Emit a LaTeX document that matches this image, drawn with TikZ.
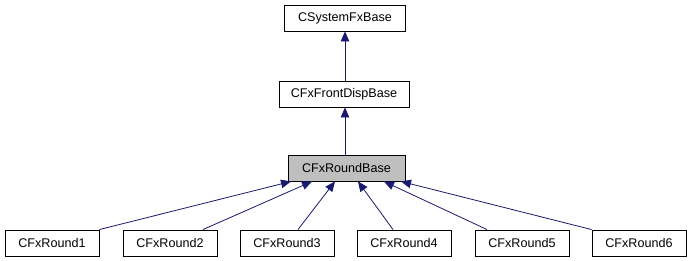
\documentclass[tikz,border=0pt]{standalone}
\usepackage{fontspec}
\setmainfont{Liberation Sans}
\usetikzlibrary{arrows.meta}
\definecolor{edgeblue}{HTML}{191970}
\definecolor{focusgray}{HTML}{BFBFBF}
\begin{document}
\begin{tikzpicture}[x=1pt,y=-1pt,
  classbox/.style={draw=black,line width=0.9pt,fill=white,minimum height=26pt,
    inner sep=0pt,font=\fontsize{12.6}{14}\selectfont},
  leafbox/.style={classbox,minimum width=94pt},
  focusbox/.style={classbox,fill=focusgray},
  inherit/.style={draw=edgeblue,line width=0.8pt,
    -{Triangle[length=10pt,width=8.5pt,fill=edgeblue]}}]
\useasboundingbox[fill=white] (0,0) rectangle (691,261);

% class hierarchy
\node[classbox,minimum width=121pt] (sys)   at (345,18)    {CSystemFxBase};
\node[classbox,minimum width=130pt] (front) at (344,94)    {CFxFrontDispBase};
\node[focusbox,minimum width=117pt] (base)  at (346.5,168) {CFxRoundBase};

\node[leafbox] (r1) at (52,243)  {CFxRound1};
\node[leafbox] (r2) at (170,243) {CFxRound2};
\node[leafbox] (r3) at (287,243) {CFxRound3};
\node[leafbox] (r4) at (404,243) {CFxRound4};
\node[leafbox] (r5) at (522,243) {CFxRound5};
\node[leafbox] (r6) at (639,243) {CFxRound6};

% inheritance edges
\draw[inherit] (front.north -| sys.south) -- (sys.south);
\draw[inherit] ([xshift=-1.5pt]base.north) -- ([xshift=-1.5pt]base.north |- front.south);
\draw[inherit] (r1.north east) -- ([xshift=-55.5pt]base.south);
\draw[inherit] ([xshift=33pt]r2.north) -- ([xshift=-34.5pt]base.south);
\draw[inherit] ([xshift=11pt]r3.north) -- ([xshift=-11.5pt]base.south);
\draw[inherit] ([xshift=-11pt]r4.north) -- ([xshift=11.5pt]base.south);
\draw[inherit] ([xshift=-35pt]r5.north) -- ([xshift=37.5pt]base.south);
\draw[inherit] (r6.north west) -- ([xshift=54.5pt]base.south);
\end{tikzpicture}
\end{document}
